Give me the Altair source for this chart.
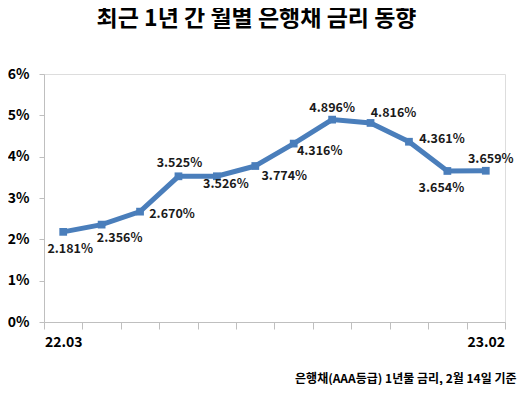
import altair as alt
import pandas as pd

months = ["22.03", "22.04", "22.05", "22.06", "22.07", "22.08",
          "22.09", "22.10", "22.11", "22.12", "23.01", "23.02"]
rates = [2.181, 2.356, 2.670, 3.525, 3.526, 3.774,
         4.316, 4.896, 4.816, 4.361, 3.654, 3.659]
# label placement offsets (pixels) relative to each point
label_dx = [7, 18, 32, 1, 9, 29, 26, 0, 23, 33, -6, 5]
label_dy = [17, 13, 2, -13, 8, 10, 7, -12, -10, -3, 17, -12]

title_text = "최근 1년 간 월별 은행채 금리 동향"
note_text = "은행채(AAA등급) 1년물 금리, 2월 14일 기준"

df = pd.DataFrame({"month": months, "rate": rates})

FONT = "Noto Sans CJK KR"
BLUE = "#4a7ebb"

x_enc = alt.X("month:N", sort=months, bandPosition=0.5,
              scale=alt.Scale(type="band", paddingInner=0, paddingOuter=0),
              axis=alt.Axis(title=note_text, labelAngle=0, tickBand="extent",
                            labelExpr="(datum.value == '22.03' || datum.value == '23.02') ? datum.value : ''",
                            labelFont=FONT, labelFontSize=14, labelFontWeight="bold",
                            labelColor="#000000", labelPadding=6,
                            domainColor="#bfbfbf", tickColor="#bfbfbf", tickSize=7,
                            titleFont=FONT, titleFontSize=12, titleFontWeight="bold",
                            titleColor="#000000", titleAnchor="end", titleAlign="right",
                            titleX=472, titleY=56, titleBaseline="middle"))
y_enc = alt.Y("rate:Q", scale=alt.Scale(domain=[0, 6], nice=False),
              axis=alt.Axis(title=None, values=[0, 1, 2, 3, 4, 5, 6],
                            labelExpr="datum.value + '%'", grid=False,
                            labelFont=FONT, labelFontSize=14, labelFontWeight="bold",
                            labelColor="#000000", labelPadding=10,
                            domainColor="#bfbfbf", tickColor="#bfbfbf", tickSize=5))

base = alt.Chart(df)
x_plain = alt.X("month:N", sort=months, bandPosition=0.5)

line = base.mark_line(color=BLUE, strokeWidth=5).encode(x=x_enc, y=y_enc)
pts = base.mark_point(shape="square", filled=True, color=BLUE, size=60, opacity=1).encode(
    x=x_plain, y="rate:Q")

label_layers = []
for m, ddx, ddy in zip(months, label_dx, label_dy):
    label_layers.append(
        base.transform_filter(alt.datum.month == m)
        .transform_calculate(label="format(datum.rate, '.3f') + '%'")
        .mark_text(font=FONT, fontSize=12.5, fontWeight="bold", color="#1a1a1a",
                   baseline="middle", align="center", dx=ddx, dy=ddy)
        .encode(x=x_plain, y="rate:Q", text="label:N")
    )

chart = alt.layer(line, pts, *label_layers).properties(
    width=461, height=248,
    autosize=alt.AutoSizeParams(type="none"),
    padding={"left": 36, "top": 66, "right": 17, "bottom": 63},
    title=alt.TitleParams(title_text, font=FONT, fontSize=23, fontWeight="bold",
                          color="#000000", anchor="middle", dx=-18, offset=36),
).configure_view(stroke=None).configure(background="white")

chart.save("out.html", embed_options={"renderer": "svg", "actions": False})
